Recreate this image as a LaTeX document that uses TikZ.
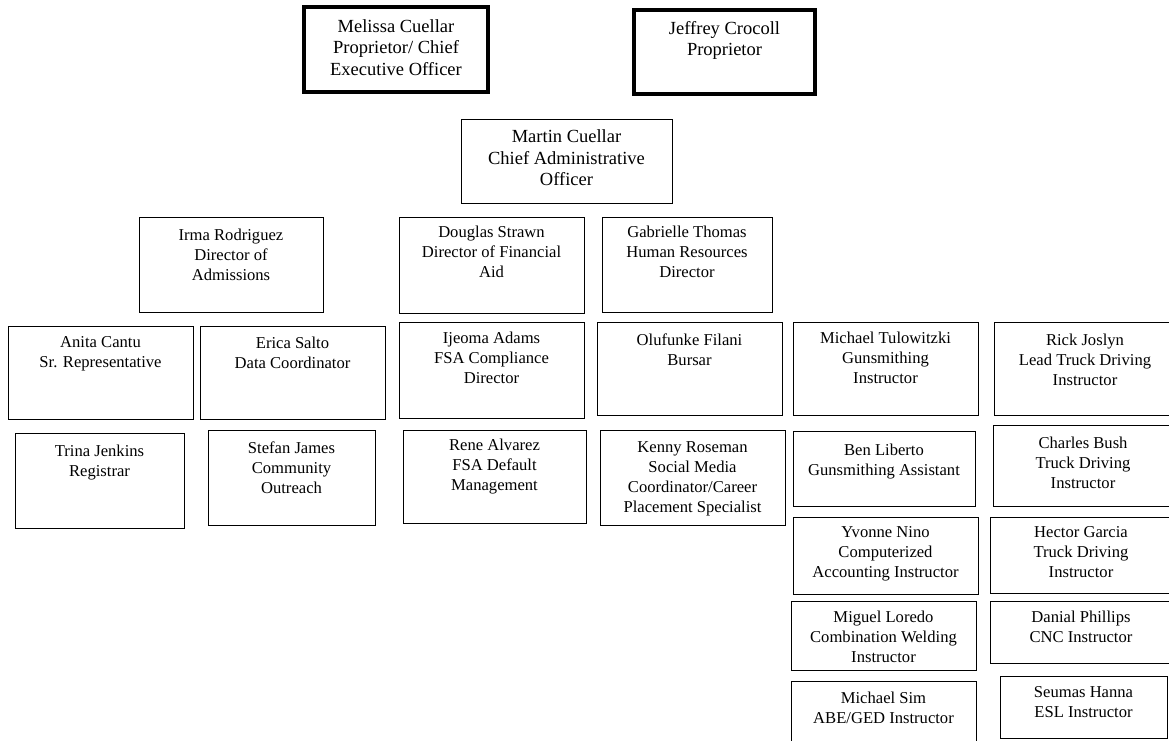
\documentclass[tikz,border=0pt]{standalone}
\usepackage{fontspec}
\setmainfont{Liberation Serif}
\usetikzlibrary{positioning}

\begin{document}
\begin{tikzpicture}[x=1pt, y=-1pt,
    box/.style={draw, line width=0.9pt, inner sep=0pt},
    bigbox/.style={draw, line width=3.5pt, inner sep=0pt},
    txt/.style={align=center, inner sep=0pt, font=\fontsize{16.6}{20}\selectfont},
    bigtxt/.style={align=center, inner sep=0pt, font=\fontsize{18.5}{21.5}\selectfont}]
  \useasboundingbox (0,0) rectangle (1169,740);
  \clip (0,0) rectangle (1169,740);

  % proprietors
  \node[bigbox, minimum width=184pt, minimum height=85pt] (melissa) at (396,49.5) {};
  \node[bigtxt, below=14pt of melissa.north] (melissa-t) {Melissa Cuellar\\Proprietor/ Chief\\Executive Officer};
  \node[bigbox, minimum width=181pt, minimum height=84pt] (jeffrey) at (724.5,52) {};
  \node[bigtxt, below=13pt of jeffrey.north] (jeffrey-t) {Jeffrey Crocoll\\Proprietor};

  % administration
  \node[box, minimum width=211pt, minimum height=84pt] (martin) at (566.5,161) {};
  \node[bigtxt, below=11pt of martin.north] (martin-t) {Martin Cuellar\\Chief Administrative\\Officer};

  % directors
  \node[box, minimum width=184pt, minimum height=95pt] (irma) at (231,264.5) {};
  \node[txt, below=12pt of irma.north] (irma-t) {Irma Rodriguez\\Director of\\Admissions};
  \node[box, minimum width=185pt, minimum height=96pt] (douglas) at (491.5,265) {};
  \node[txt, below=9pt of douglas.north] (douglas-t) {Douglas Strawn\\Director of Financial\\Aid};
  \node[box, minimum width=170pt, minimum height=95pt] (gabrielle) at (687,264.5) {};
  \node[txt, below=9pt of gabrielle.north] (gabrielle-t) {Gabrielle Thomas\\Human Resources\\Director};

  % admissions staff
  \node[box, minimum width=185pt, minimum height=93pt] (anita) at (100.5,372.5) {};
  \node[txt, below=11pt of anita.north] (anita-t) {Anita Cantu\\Sr. Representative};
  \node[box, minimum width=185pt, minimum height=93pt] (erica) at (292.5,372.5) {};
  \node[txt, below=11pt of erica.north] (erica-t) {Erica Salto\\Data Coordinator};
  \node[box, minimum width=169pt, minimum height=95pt] (trina) at (99.5,480.5) {};
  \node[txt, below=12pt of trina.north] (trina-t) {Trina Jenkins\\Registrar};
  \node[box, minimum width=167pt, minimum height=95pt] (stefan) at (291.5,477.5) {};
  \node[txt, below=12pt of stefan.north] (stefan-t) {Stefan James\\Community\\Outreach};

  % financial aid and hr staff
  \node[box, minimum width=185pt, minimum height=96pt] (ijeoma) at (491.5,370) {};
  \node[txt, below=10pt of ijeoma.north] (ijeoma-t) {Ijeoma Adams\\FSA Compliance\\Director};
  \node[box, minimum width=183pt, minimum height=93pt] (rene) at (494.5,476.5) {};
  \node[txt, below=9pt of rene.north] (rene-t) {Rene Alvarez\\FSA Default\\Management};
  \node[box, minimum width=185pt, minimum height=93pt] (olufunke) at (689.5,368.5) {};
  \node[txt, below=12pt of olufunke.north] (olufunke-t) {Olufunke Filani\\Bursar};
  \node[box, minimum width=185pt, minimum height=95pt] (kenny) at (692.5,477.5) {};
  \node[txt, below=12pt of kenny.north] (kenny-t) {Kenny Roseman\\Social Media\\Coordinator/Career\\Placement Specialist};

  % instructors
  \node[box, minimum width=185pt, minimum height=93pt] (tulowitzki) at (885.5,368.5) {};
  \node[txt, below=10pt of tulowitzki.north] (tulowitzki-t) {Michael Tulowitzki\\Gunsmithing\\Instructor};
  \node[box, minimum width=182pt, minimum height=75pt] (ben) at (884,468.5) {};
  \node[txt, below=13pt of ben.north] (ben-t) {Ben Liberto\\Gunsmithing Assistant};
  \node[box, minimum width=185pt, minimum height=77pt] (yvonne) at (885.5,555.5) {};
  \node[txt, below=10pt of yvonne.north] (yvonne-t) {Yvonne Nino\\Computerized\\Accounting Instructor};
  \node[box, minimum width=185pt, minimum height=69pt] (miguel) at (883.5,635.5) {};
  \node[txt, below=10pt of miguel.north] (miguel-t) {Miguel Loredo\\Combination Welding\\Instructor};
  \node[box, minimum width=185pt, minimum height=79pt] (sim) at (883.5,720.5) {};
  \node[txt, below=11pt of sim.north] (sim-t) {Michael Sim\\ABE/GED Instructor};

  \node[box, minimum width=182pt, minimum height=93pt] (rick) at (1085,368.5) {};
  \node[txt, below=12pt of rick.north] (rick-t) {Rick Joslyn\\Lead Truck Driving\\Instructor};
  \node[box, minimum width=180pt, minimum height=81pt] (charles) at (1083,465.5) {};
  \node[txt, below=12pt of charles.north] (charles-t) {Charles Bush\\Truck Driving\\Instructor};
  \node[box, minimum width=182pt, minimum height=76pt] (hector) at (1081,555) {};
  \node[txt, below=10pt of hector.north] (hector-t) {Hector Garcia\\Truck Driving\\Instructor};
  \node[box, minimum width=182pt, minimum height=62pt] (danial) at (1081,632) {};
  \node[txt, below=10pt of danial.north] (danial-t) {Danial Phillips\\CNC Instructor};
  \node[box, minimum width=167pt, minimum height=62pt] (seumas) at (1083.5,707) {};
  \node[txt, below=11pt of seumas.north] (seumas-t) {Seumas Hanna\\ESL Instructor};
\end{tikzpicture}
\end{document}
